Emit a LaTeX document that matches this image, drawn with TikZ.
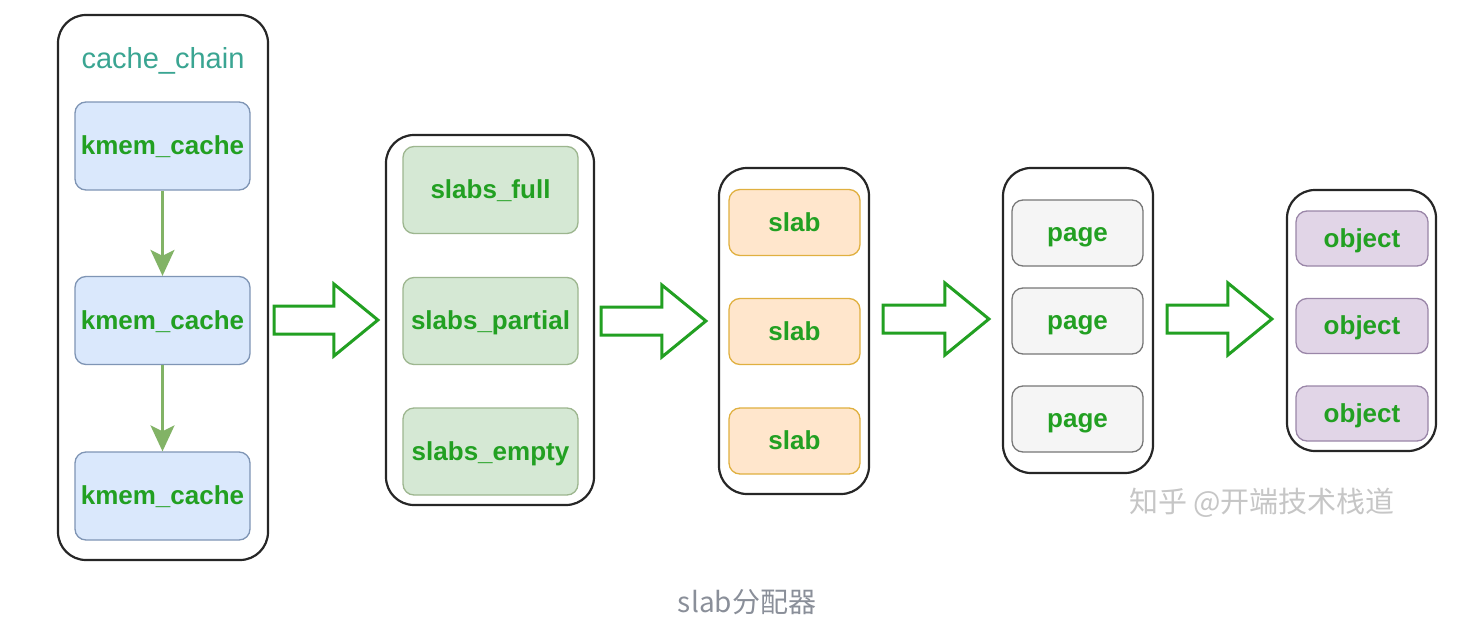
\documentclass[tikz,border=0pt]{standalone}
\usepackage{fontspec}
\setmainfont{Liberation Sans}
\newfontfamily\cjk{Noto Sans CJK SC}
\usetikzlibrary{calc,arrows.meta}

\definecolor{textgreen}{HTML}{22A022}
\definecolor{linkgreen}{HTML}{82B366}
\definecolor{chaincolor}{HTML}{3AA592}
\definecolor{blueedge}{HTML}{7F95B5}
\definecolor{bluefill}{HTML}{DAE8FC}
\definecolor{greenedge}{HTML}{9DB68F}
\definecolor{greenfill}{HTML}{D5E8D4}
\definecolor{orangeedge}{HTML}{E0B040}
\definecolor{orangefill}{HTML}{FFE6CC}
\definecolor{grayedge}{HTML}{777777}
\definecolor{grayfill}{HTML}{F5F5F5}
\definecolor{purpleedge}{HTML}{9A86A8}
\definecolor{purplefill}{HTML}{E1D5E7}
\definecolor{captiongray}{HTML}{8A8F99}

% hollow block arrow from #1 to #2 (both at the same height)
\newcommand{\hollowarrow}[2]{%
  \draw[bigarrow] let \p1=(#1), \p2=(#2) in
    (\x1,\y1+14pt) -- (\x2-44pt,\y1+14pt) -- (\x2-44pt,\y1+36pt) -- (\x2,\y1)
    -- (\x2-44pt,\y1-36pt) -- (\x2-44pt,\y1-14pt) -- (\x1,\y1-14pt) -- cycle;}

\begin{document}
\begin{tikzpicture}[x=1pt,y=-1pt]
    % `container' is the big rounded frame round each group.
    % `item' is the common look of the small boxes inside.
    \tikzstyle{container} = [draw=black!85,line width=2.2pt,rounded corners=28pt,fill=white]
    \tikzstyle{item} = [line width=1.3pt,rounded corners=11pt,text=textgreen,
                        font=\bfseries\fontsize{26}{30}\selectfont,
                        text height=23pt,text depth=5.5pt]
    \tikzstyle{cachebox} = [item,draw=blueedge,fill=bluefill,minimum width=175pt,minimum height=88pt]
    \tikzstyle{slabsbox} = [item,draw=greenedge,fill=greenfill,minimum width=175pt,minimum height=87pt]
    \tikzstyle{slabbox} = [item,draw=orangeedge,fill=orangefill,minimum width=131pt,minimum height=66pt]
    \tikzstyle{pagebox} = [item,draw=grayedge,fill=grayfill,minimum width=131pt,minimum height=66pt]
    \tikzstyle{objbox} = [item,draw=purpleedge,fill=purplefill,minimum width=132pt,minimum height=55pt]
    \tikzstyle{link} = [draw=linkgreen,line width=2.5pt,-{Stealth[width=24pt,length=26pt,inset=6pt]}]
    \tikzstyle{bigarrow} = [draw=textgreen,line width=3pt,fill=white,line join=miter]
    %
    \useasboundingbox (0,0) rectangle (1482,637);
    % Frames.
    \node[container,minimum width=210pt,minimum height=545pt] (chain) at (163,287.5) {};
    \node[container,minimum width=208pt,minimum height=370pt] (lists) at (490,320) {};
    \node[container,minimum width=150pt,minimum height=326pt] (slabs) at (794,331) {};
    \node[container,minimum width=150pt,minimum height=305pt] (pages) at (1078,320.5) {};
    \node[container,minimum width=149pt,minimum height=261pt] (objects) at (1361.5,320.5) {};
    \node[text=chaincolor,font=\fontsize{29}{34}\selectfont] (title) at (163,61) {cache\_chain};
    % Boxes inside the frames.
    \node[cachebox] (kmem1) at (162.5,146) {kmem\_cache};
    \node[cachebox] (kmem2) at (162.5,320.5) {kmem\_cache};
    \node[cachebox] (kmem3) at (162.5,496) {kmem\_cache};
    \node[slabsbox] (full) at (490.5,190) {slabs\_full};
    \node[slabsbox] (partial) at (490.5,321) {slabs\_partial};
    \node[slabsbox] (empty) at (490.5,451.5) {slabs\_empty};
    \foreach \y [count=\i] in {222.5,331.5,441}
      \node[slabbox] (slab\i) at (794.5,\y) {slab};
    \foreach \y [count=\i] in {233,321,419}
      \node[pagebox] (page\i) at (1077.5,\y) {page};
    \foreach \y [count=\i] in {238.5,326,413.5}
      \node[objbox] (obj\i) at (1362,\y) {object};
    % Chain links.
    \draw[link] (kmem1) -- (kmem2);
    \draw[link] (kmem2) -- (kmem3);
    % Block arrows between the frames.
    \hollowarrow{$(chain.east|-partial.center)+(5,-1)$}{$(lists.west|-partial.center)+(-7,-1)$}
    \hollowarrow{$(lists.east|-partial.center)+(6,0)$}{$(slabs.west|-partial.center)+(-12,0)$}
    \hollowarrow{$(slabs.east|-page2.center)+(13,-2)$}{$(pages.west|-page2.center)+(-13,-2)$}
    \hollowarrow{$(pages.east|-page2.center)+(13,-2)$}{$(objects.west|-page2.center)+(-14,-2)$}
    % Watermark and caption.
    \node[text=gray!45,font=\cjk\fontsize{29}{34}\selectfont] (mark) at (1262,503) {知乎 @开端技术栈道};
    \node[text=captiongray,font=\cjk\fontsize{28}{34}\selectfont] (caption) at (747,602) {slab分配器};
\end{tikzpicture}
\end{document}
